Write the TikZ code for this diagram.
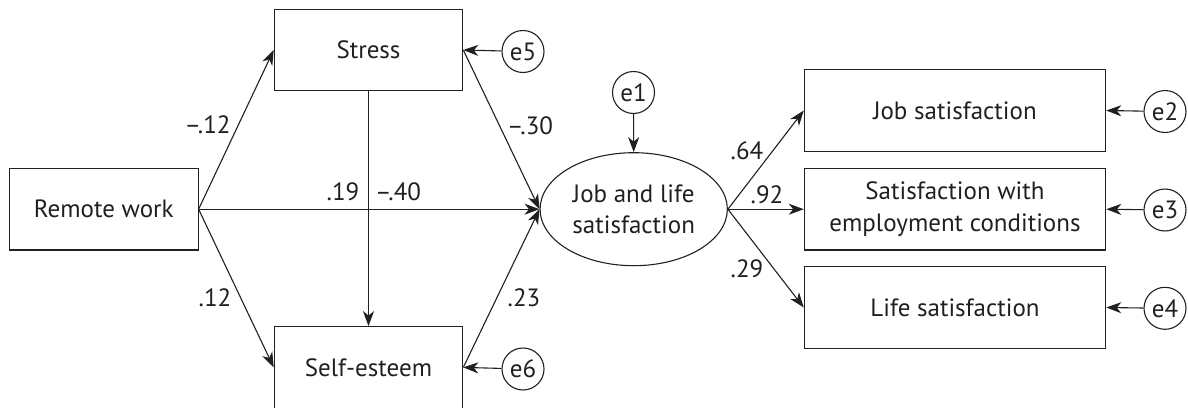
\documentclass[tikz,border=0pt]{standalone}
\usepackage{fontspec}
\setmainfont{PT Sans}
\usetikzlibrary{arrows.meta,shapes.geometric}
\definecolor{ink}{HTML}{231F20}
\begin{document}
\begin{tikzpicture}[x=1pt,y=-1pt,
  every node/.style={text=ink, font=\fontsize{25}{31.7}\selectfont},
  box/.style={draw=ink, line width=1.1pt, inner sep=0pt, minimum width=188.5pt, minimum height=81.5pt, align=center},
  wbox/.style={box, minimum width=301.4pt},
  latent/.style={draw=ink, line width=1.1pt, ellipse, inner sep=0pt, minimum width=187.3pt, minimum height=113pt, align=center},
  err/.style={draw=ink, line width=1.1pt, circle, inner sep=0pt, minimum size=42pt},
  arr/.style={draw=ink, line width=1.1pt, -{Stealth[length=15pt,width=11pt,inset=4.5pt]}},
  coef/.style={inner sep=0pt}
]
\useasboundingbox (0,0) rectangle (1188,407);

% observed/latent variables
\node[box] (rw) at (103.8,209.2) {Remote work};
\node[box] (st) at (368.5,50) {Stress};
\node[box] (se) at (368.5,367.4) {Self-esteem};
\node[latent] (ell) at (633.7,209.2) {Job and life\\satisfaction};
\node[wbox] (js) at (955,110.5) {Job satisfaction};
\node[wbox] (ec) at (955,209.2) {Satisfaction with\\employment conditions};
\node[wbox] (ls) at (955,307.5) {Life satisfaction};

% error terms
\node[err] (e1) at (633.5,92.5) {e1};
\node[err] (e5) at (523,51.5) {e5};
\node[err] (e6) at (523,369) {e6};
\node[err] (e2) at (1165,111.5) {e2};
\node[err] (e3) at (1165,210) {e3};
\node[err] (e4) at (1165,308.3) {e4};

% structural paths
\draw[arr] (rw.east) -- (st.west);
\draw[arr] (rw.east) -- (se.west);
\draw[arr] (rw.east) -- (ell.west);
\draw[arr] (st.south) -- (se.north);
\draw[arr] (st.east) -- (ell.west);
\draw[arr] (se.east) -- (ell.west);
\draw[arr] (ell.east) -- (js.west);
\draw[arr] (ell.east) -- (ec.west);
\draw[arr] (ell.east) -- (ls.west);

% error paths
\draw[arr] (e1) -- (ell.north);
\draw[arr] (e5) -- (st.east);
\draw[arr] (e6) -- (se.east);
\draw[arr] (e2) -- (js.east);
\draw[arr] (e3) -- (ec.east);
\draw[arr] (e4) -- (ls.east);

% coefficients
\node[coef] (c1) at (207.5,125) {–.12};
\node[coef] (c2) at (215,298) {.12};
\node[coef] (c3) at (530,125.5) {–.30};
\node[coef] (c4) at (524,298) {.23};
\node[coef] (c5) at (343,192) {.19};
\node[coef] (c6) at (398,192) {–.40};
\node[coef] (c7) at (747,151) {.64};
\node[coef] (c8) at (767,195) {.92};
\node[coef] (c9) at (747,269) {.29};
\end{tikzpicture}
\end{document}
